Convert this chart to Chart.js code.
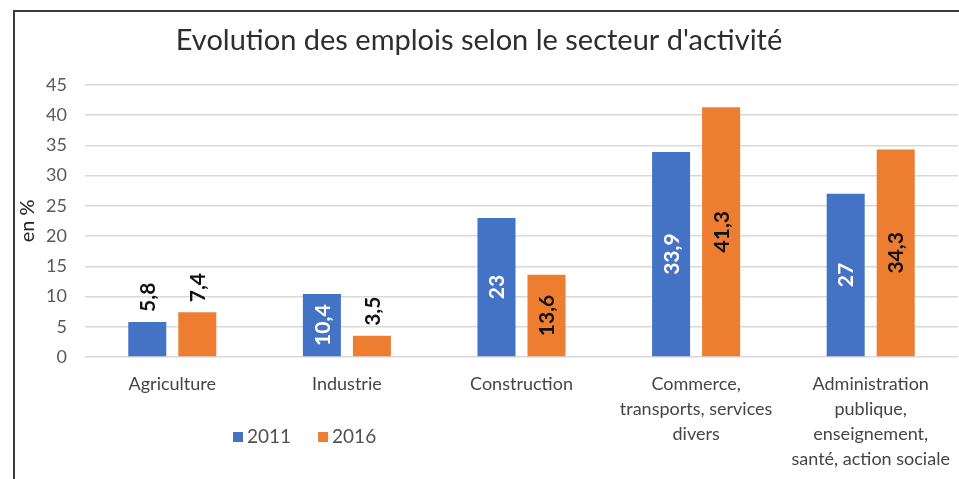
<!DOCTYPE html>
<html>
<head>
<meta charset="utf-8">
<script src="https://cdn.jsdelivr.net/npm/chart.js@4"></script>
<style>
  html, body { margin: 0; padding: 0; background: #fff; }
  #wrap { position: relative; width: 959px; height: 479px; }
  #frame { position: absolute; left: 13px; top: 10px; right: 0; bottom: 0;
           border-left: 2px solid #3a3a3a; border-top: 2px solid #3a3a3a; pointer-events: none; }
</style>
</head>
<body>
<div id="wrap">
  <canvas id="c" width="959" height="479"></canvas>
  <div id="frame"></div>
</div>
<script>
const title = "Evolution des emplois selon le secteur d'activité";
const yAxisTitle = "en %";
const categories = [
  ["Agriculture"],
  ["Industrie"],
  ["Construction"],
  ["Commerce,", "transports, services", "divers"],
  ["Administration", "publique,", "enseignement,", "santé, action sociale"]
];
const seriesNames = ["2011", "2016"];
const values2011 = [5.8, 10.4, 23, 33.9, 27];
const values2016 = [7.4, 3.5, 13.6, 41.3, 34.3];
const yMin = 0, yMax = 45, yStep = 5;

const FONT = "Lato, 'Open Sans', sans-serif";
const colors = ["#4472C4", "#ED7D31"];

const fmt = v => String(v).replace(".", ",");

const dataLabels = {
  id: "dataLabels",
  afterDatasetsDraw(chart) {
    const ctx = chart.ctx;
    chart.data.datasets.forEach((ds, di) => {
      const meta = chart.getDatasetMeta(di);
      meta.data.forEach((bar, i) => {
        const v = ds.data[i];
        const txt = fmt(v);
        ctx.save();
        ctx.font = "bold 21px " + FONT;
        ctx.textBaseline = "middle";
        if (v < 8) {
          ctx.fillStyle = "#111";
          ctx.translate(bar.x, bar.y - 10);
          ctx.rotate(-Math.PI / 2);
          ctx.textAlign = "left";
        } else {
          ctx.fillStyle = di === 0 ? "#ffffff" : "#111";
          ctx.translate(bar.x, (bar.y + bar.base) / 2);
          ctx.rotate(-Math.PI / 2);
          ctx.textAlign = "center";
        }
        ctx.fillText(txt, 0, 1);
        ctx.restore();
      });
    });
  }
};

const customLegend = {
  id: "customLegend",
  afterDraw(chart) {
    const ctx = chart.ctx;
    ctx.save();
    ctx.font = "19px " + FONT;
    ctx.textBaseline = "middle";
    ctx.textAlign = "left";
    let x = 233;
    const y = 437;
    chart.data.datasets.forEach(ds => {
      ctx.fillStyle = ds.backgroundColor;
      ctx.fillRect(x, y - 5, 10, 10);
      ctx.fillStyle = "#505050";
      ctx.fillText(ds.label, x + 14, y);
      x += 14 + ctx.measureText(ds.label).width + 27;
    });
    ctx.restore();
  }
};

new Chart(document.getElementById("c"), {
  type: "bar",
  data: {
    labels: categories,
    datasets: [
      { label: seriesNames[0], data: values2011, backgroundColor: colors[0] },
      { label: seriesNames[1], data: values2016, backgroundColor: colors[1] }
    ]
  },
  options: {
    responsive: false,
    animation: false,
    devicePixelRatio: 1,
    categoryPercentage: 0.573,
    barPercentage: 0.76,
    layout: { padding: { left: 0, right: 1, top: 0, bottom: 0 } },
    plugins: {
      legend: { display: false },
      tooltip: { enabled: false },
      title: {
        display: true,
        text: title,
        color: "#2e2e2e",
        font: { family: FONT, size: 29, weight: "normal", lineHeight: 1.2 },
        padding: { top: 23, bottom: 27 }
      }
    },
    scales: {
      x: {
        grid: { display: false },
        border: { display: false },
        ticks: {
          color: "#454545",
          font: { family: FONT, size: 18, lineHeight: 25 / 18 },
          padding: 7,
          maxRotation: 0,
          autoSkip: false
        },
        afterFit(s) { s.height = 122; }
      },
      y: {
        min: yMin, max: yMax,
        ticks: {
          stepSize: yStep,
          color: "#595959",
          font: { family: FONT, size: 18 },
          padding: 18
        },
        grid: { color: "#D9D9D9", lineWidth: 1.5, drawTicks: false },
        border: { display: false },
        title: {
          display: true,
          text: yAxisTitle,
          color: "#222222",
          font: { family: FONT, size: 20 },
          padding: { top: 16, bottom: 0 }
        },
        afterFit(s) { s.width = 85; }
      }
    }
  },
  plugins: [dataLabels, customLegend]
});
</script>
</body>
</html>
